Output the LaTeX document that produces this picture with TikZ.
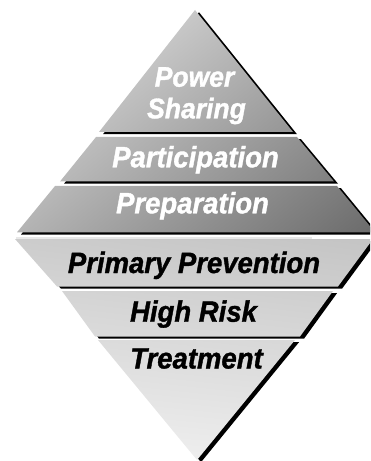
\documentclass[tikz,border=0pt]{standalone}
\usepackage{fontspec}
\usepackage{graphicx}
\newfontface\tierface{Liberation Sans Bold Italic}[FakeBold=1.3]
\usetikzlibrary{shadings}

% grey ramps: upper pyramid darkens toward the lower right,
% lower (inverted) pyramid lightens toward its tip
\definecolor{upUL}{gray}{0.929}
\definecolor{upUR}{gray}{0.643}
\definecolor{upLL}{gray}{0.706}
\definecolor{upLR}{gray}{0.420}
\definecolor{loUL}{gray}{0.800}
\definecolor{loUR}{gray}{0.769}
\definecolor{loLL}{gray}{0.945}
\definecolor{loLR}{gray}{0.922}
\definecolor{rimlight}{gray}{0.91}

% outlines of the six tiers (x to the right, y downward, in bp)
\newcommand\tierA{(195,10) -- (293,132) -- (99,132) -- cycle}
\newcommand\tierB{(96,137) -- (297,137) -- (334,181.5) -- (60,181.5) -- cycle}
\newcommand\tierC{(55,186) -- (337,186) -- (375,232.3) -- (17,232.3) -- cycle}
\newcommand\tierD{(15,239) -- (373,239) -- (338,286.5) -- (57,286.5) -- cycle}
\newcommand\tierE{(62,291) -- (333,291) -- (300,336.5) -- (95,336.5) -- cycle}
\newcommand\tierF{(98,340) -- (295,340) -- (197,460) -- cycle}

% slightly tall lettering for the tier names
\newcommand\tall[1]{\scalebox{1}[1.07]{#1}}

\begin{document}
\begin{tikzpicture}[x=1bp,y=-1bp,
  tiertext/.style={font=\tierface\fontsize{27.5bp}{30bp}\selectfont,
                   inner sep=0pt, anchor=base},
  toptext/.style={tiertext, font=\tierface\fontsize{26.5bp}{29bp}\selectfont},
  dropshadow/.style={fill=black, shift={(4,2.2)}},
  upshade/.style={upper left=upUL, upper right=upUR, lower left=upLL, lower right=upLR},
  loshade/.style={upper left=loUL, upper right=loUR, lower left=loLL, lower right=loLR}]
\useasboundingbox (0,0) rectangle (370,461);
\clip (0,0) rectangle (370,461);

% drop shadows behind every tier
\path[dropshadow] \tierA;
\path[dropshadow] \tierB;
\path[dropshadow] \tierC;
\path[dropshadow] \tierD;
\path[dropshadow] \tierE;
\path[dropshadow] \tierF;

% upper pyramid: one continuous ramp seen through each tier
\begin{scope}\clip \tierA; \shade[upshade] (15,10) rectangle (372,233);\end{scope}
\begin{scope}\clip \tierB; \shade[upshade] (15,10) rectangle (372,233);\end{scope}
\begin{scope}\clip \tierC; \shade[upshade] (15,10) rectangle (372,233);\end{scope}

% lower pyramid
\begin{scope}\clip \tierD; \shade[loshade] (15,238) rectangle (372,460);\end{scope}
\begin{scope}\clip \tierE; \shade[loshade] (15,238) rectangle (372,460);\end{scope}
\begin{scope}\clip \tierF; \shade[loshade] (15,238) rectangle (372,460);\end{scope}

% pale rim along the top of the lower pyramid
\fill[rimlight] (16,236.8) rectangle (312,239);

% tier labels
\node[toptext, white] (power)   at (194.5,86.7)  {\tall{Power}};
\node[toptext, white] (sharing) at (196.5,118.3) {\tall{Sharing}};
\node[tiertext, white] (particip) at (195.5,167.3) {\tall{Participation}};
\node[tiertext, white] (prep)     at (192.5,213.3) {\tall{Preparation}};
\node[tiertext, black] (primary)  at (194,273)     {\tall{Primary Prevention}};
\node[tiertext, black] (highrisk) at (193.5,321.7) {\tall{High Risk}};
\node[tiertext, black] (treat)    at (196.5,368.5) {\tall{Treatment}};
\end{tikzpicture}
\end{document}
